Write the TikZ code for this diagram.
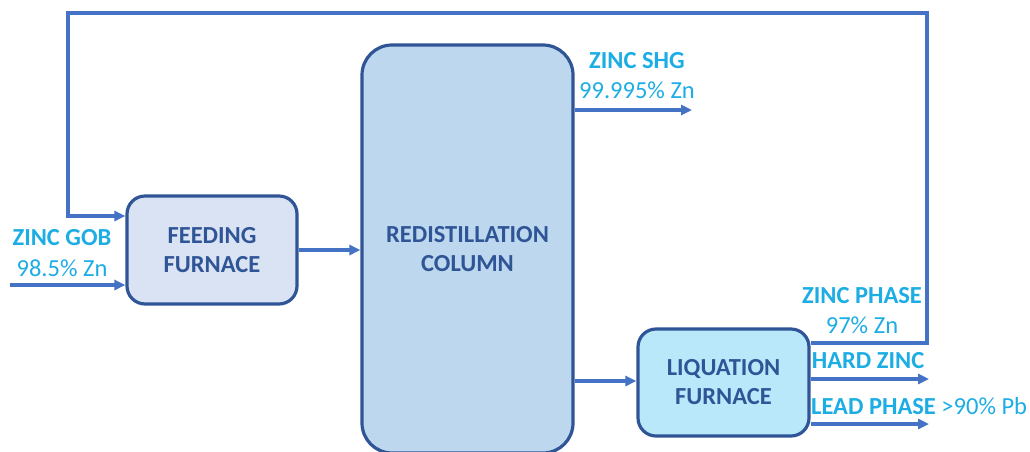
\documentclass[tikz,border=0pt]{standalone}
\usepackage{fontspec}
\setmainfont{Carlito}
\usetikzlibrary{arrows.meta}
\definecolor{lineblue}{HTML}{4472C4}
\definecolor{borderblue}{HTML}{2F5597}
\definecolor{textdark}{HTML}{2F5597}
\definecolor{labelcyan}{HTML}{1CADE4}
\definecolor{feedfill}{HTML}{DAE3F3}
\definecolor{colfill}{HTML}{BDD7EE}
\definecolor{liqfill}{HTML}{B8E8FA}
\begin{document}
\begin{tikzpicture}[x=1pt,y=-1pt,
  unit/.style={draw=borderblue, line width=3.2pt, rounded corners=#1, align=center,
    font=\fontsize{24.5}{29}\selectfont\bfseries, text=textdark, inner sep=0pt},
  flow/.style={draw=lineblue, line width=3.2pt, -{Triangle[length=11pt,width=10pt]}},
  lab/.style={text=labelcyan, font=\fontsize{24.5}{30}\selectfont, align=center, inner sep=0pt},
  labb/.style={text=labelcyan, font=\fontsize{24.5}{30}\selectfont\bfseries, inner sep=0pt}
]
\useasboundingbox (0,0) rectangle (1030,451);
\begin{scope}
\clip (0,0) rectangle (1030,451);
\node[unit=30pt, fill=colfill, minimum width=211pt, minimum height=408pt] (col) at (467.5,249) {REDISTILLATION\\COLUMN};
\end{scope}
\node[unit=18pt, fill=feedfill, minimum width=170pt, minimum height=108pt] (feed) at (212,250) {FEEDING\\FURNACE};
\node[unit=18pt, fill=liqfill, minimum width=171pt, minimum height=107pt] (liq) at (723.5,382.5) {LIQUATION\\FURNACE};

\coordinate (gobin) at (10,285);
\coordinate (shgout) at (692,110);
\coordinate (hzout) at (929,379);
\coordinate (lpout) at (929,424);
\coordinate (r1) at (927,343);
\coordinate (r2) at (927,13);
\coordinate (r3) at (68,13);
\coordinate (r4) at (68,216);

\draw[flow] (gobin) -- (gobin -| feed.west);
\draw[flow] (feed.east) -- (feed.east -| col.west);
\draw[flow] (col.east |- shgout) -- (shgout);
\draw[flow] (col.east |- 0,381) -- (liq.west |- 0,381);
\draw[flow] (liq.east |- hzout) -- (hzout);
\draw[flow] (liq.east |- lpout) -- (lpout);
\draw[flow] (liq.east |- r1) -- (r1) -- (r2) -- (r3) -- (r4) -- (r4 -| feed.west);

\node[labb] (gobl) at (62,238) {ZINC GOB};
\node[lab] (gobp) at (62,268) {98.5\% Zn};
\node[labb] (shgl) at (637,61) {ZINC SHG};
\node[lab] (shgp) at (637,90) {99.995\% Zn};
\node[labb] (zpl) at (862,296) {ZINC PHASE};
\node[lab] (zpp) at (862,325) {97\% Zn};
\node[labb] (hzl) at (868,361) {HARD ZINC};
\node[labb, anchor=west] (lpl) at (811,406) {LEAD PHASE \mdseries{}>90\% Pb};
\end{tikzpicture}
\end{document}
